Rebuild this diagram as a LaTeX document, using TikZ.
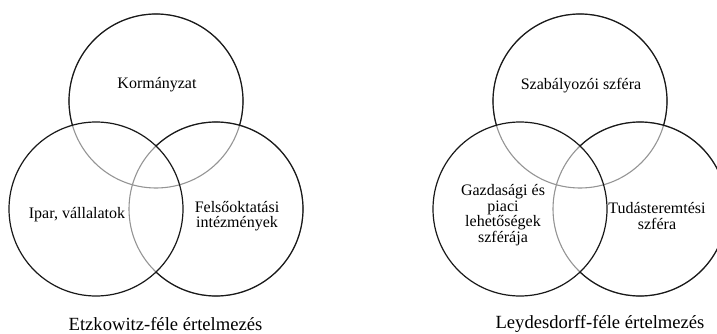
\documentclass[tikz,border=0pt]{standalone}
\usepackage{fontspec}
\setmainfont{Liberation Serif}
\begin{document}
\begin{tikzpicture}[x=1pt,y=-1pt,
  ring/.style={line width=1.2pt,draw=black!90},
  hidden/.style={line width=1.1pt,draw=black!42},
  lbl/.style={font=\fontsize{16}{15.5}\selectfont,align=center,inner sep=0pt},
  caption/.style={font=\fontsize{18.6}{20}\selectfont,inner sep=0pt}]
\useasboundingbox (0,0) rectangle (717,334);
\def\rr{87pt}

% ---------- left diagram: Etzkowitz ----------
\coordinate (gov) at (156,101);
\coordinate (ind) at (96,209);
\coordinate (uni) at (216,209);

% arcs that lie inside a later circle are drawn grey
\draw[hidden] (gov) circle[radius=\rr];
\draw[hidden] (uni) circle[radius=\rr];
% visible parts in black
\begin{scope}[even odd rule]
  \clip (-50,-50) rectangle (800,400) (ind) circle[radius=\rr];
  \clip (-50,-50) rectangle (800,400) (uni) circle[radius=\rr];
  \draw[ring] (gov) circle[radius=\rr];
\end{scope}
\begin{scope}[even odd rule]
  \clip (-50,-50) rectangle (800,400) (ind) circle[radius=\rr];
  \draw[ring] (uni) circle[radius=\rr];
\end{scope}
\draw[ring] (ind) circle[radius=\rr];

\node[lbl] (t1) at (157,85) {Kormányzat};
\node[lbl] (t2) at (77,215) {Ipar, vállalatok};
\node[lbl] (t3) at (237,216) {Felsőoktatási\\intézmények};
\node[caption] (c1) at (165.5,324) {Etzkowitz-féle értelmezés};

% ---------- right diagram: Leydesdorff ----------
\coordinate (reg) at (580,101);
\coordinate (mkt) at (520,209);
\coordinate (kno) at (640,209);

\draw[hidden] (reg) circle[radius=\rr];
\draw[hidden] (kno) circle[radius=\rr];
\begin{scope}[even odd rule]
  \clip (-50,-50) rectangle (800,400) (mkt) circle[radius=\rr];
  \clip (-50,-50) rectangle (800,400) (kno) circle[radius=\rr];
  \draw[ring] (reg) circle[radius=\rr];
\end{scope}
\begin{scope}[even odd rule]
  \clip (-50,-50) rectangle (800,400) (mkt) circle[radius=\rr];
  \draw[ring] (kno) circle[radius=\rr];
\end{scope}
\draw[ring] (mkt) circle[radius=\rr];

\node[lbl] (s1) at (581,86) {Szabályozói szféra};
\node[lbl] (s2) at (503,215) {Gazdasági és\\piaci\\lehetőségek\\szférája};
\node[lbl] (s3) at (657,216) {Tudásteremtési\\szféra};
\node[caption] (c2) at (600,324) {Leydesdorff-féle értelmezés};
\end{tikzpicture}
\end{document}
